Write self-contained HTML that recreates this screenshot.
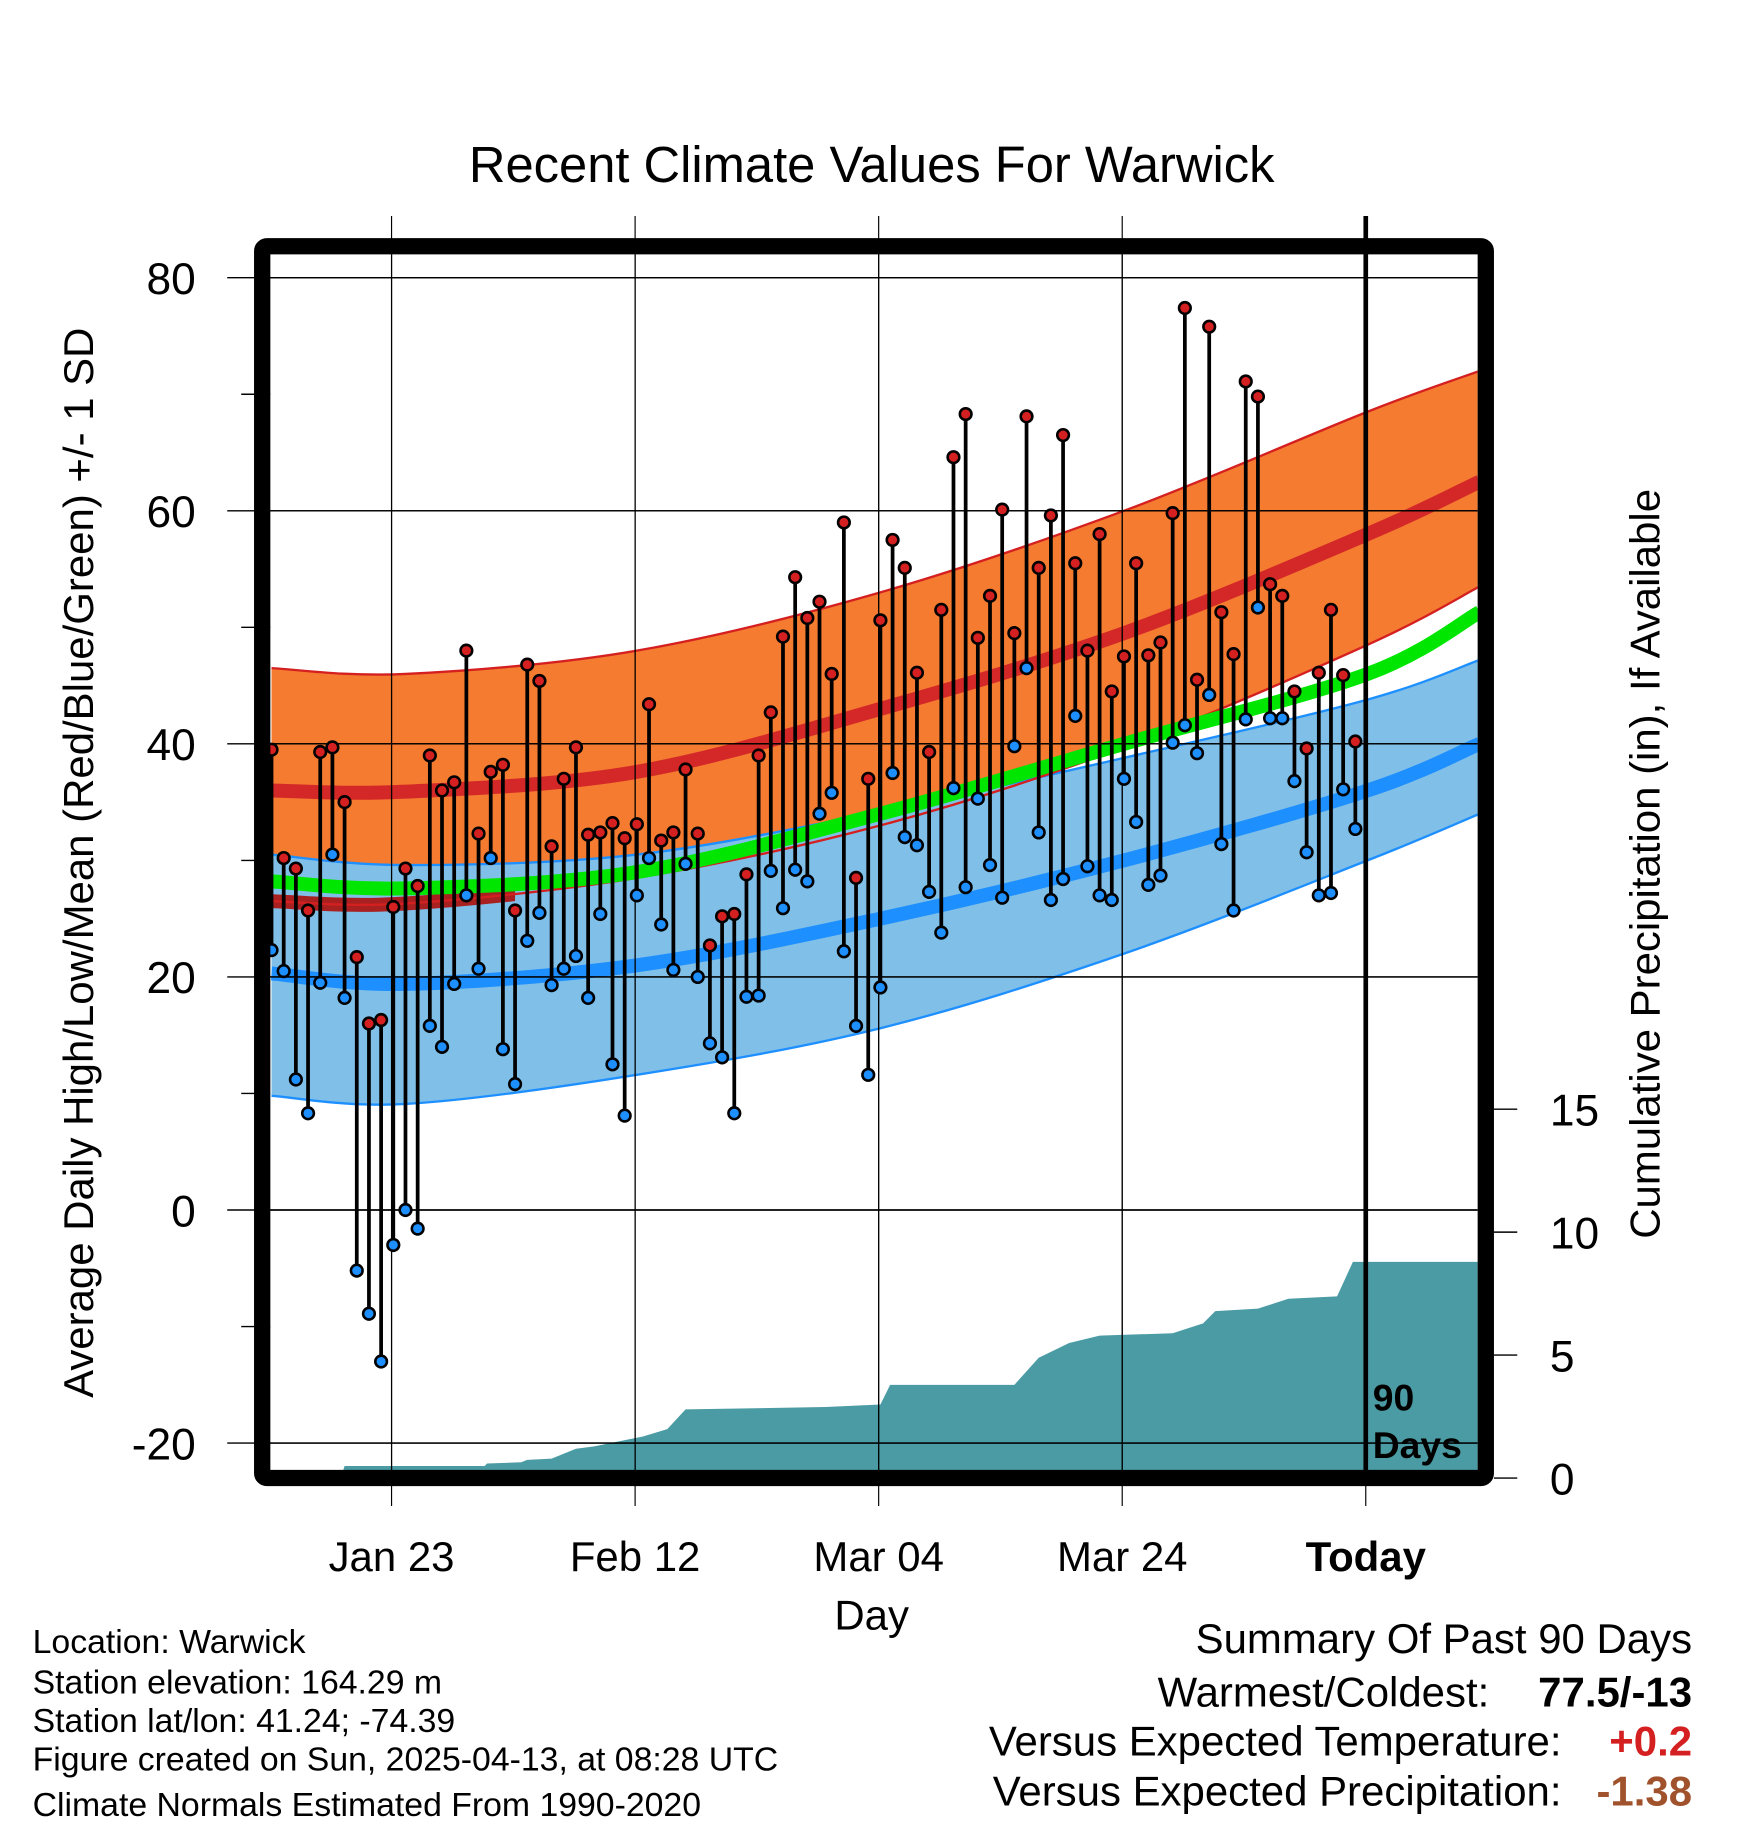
<!DOCTYPE html>
<html><head><meta charset="utf-8"><style>
html,body{margin:0;padding:0;background:#fff}
svg{display:block;font-family:"Liberation Sans",Arial,sans-serif}
</style></head><body>
<svg id="chart" width="1748" height="1828" viewBox="0 0 1500 1568">
<g id="bg"></g>
</svg>
<script>
const highs=[39.5,30.2,29.3,25.7,39.3,39.7,35,21.7,16,16.3,26,29.3,27.8,39,36,36.7,48,32.3,37.6,38.2,25.7,46.8,45.4,31.2,37,39.7,32.2,32.4,33.2,31.9,33.1,43.4,31.7,32.4,37.8,32.3,22.7,25.2,25.4,28.8,39,42.7,49.2,54.3,50.8,52.2,46,59,28.5,37,50.6,57.5,55.1,46.1,39.3,51.5,64.6,68.3,49.1,52.7,60.1,49.5,68.1,55.1,59.6,66.5,55.5,48,58,44.5,47.5,55.5,47.6,48.7,59.8,77.4,45.5,75.8,51.3,47.7,71.1,69.8,53.7,52.7,44.5,39.6,46.1,51.5,45.9,40.2];
const lows=[22.3,20.5,11.2,8.3,19.5,30.5,18.2,-5.2,-8.9,-13,-3,0,-1.6,15.8,14,19.4,27,20.7,30.2,13.8,10.8,23.1,25.5,19.3,20.7,21.8,18.2,25.4,12.5,8.1,27,30.2,24.5,20.6,29.7,20,14.3,13.1,8.3,18.3,18.4,29.1,25.9,29.2,28.2,34,35.8,22.2,15.8,11.6,19.1,37.5,32,31.3,27.3,23.8,36.2,27.7,35.3,29.6,26.8,39.8,46.5,32.4,26.6,28.4,42.4,29.5,27,26.6,37,33.3,27.9,28.7,40.1,41.6,39.2,44.2,31.4,25.7,42.1,51.7,42.2,42.2,36.8,30.7,27,27.2,36.1,32.7];
const normDays=[0,11,30,50,70,90,99.2];
const hiMean=[36,35.9,37.6,43,49.5,58,62.5];
const hiUpper=[46.5,46,48,53,60,68.5,72];
const hiLower=[26.5,26.3,28.5,33,39.7,48.5,53.5];
const meanT=[28.2,27.6,29,34,40,46,51.3];
const loUpper=[30.5,29.6,30.5,34.2,38.8,43.8,47.2];
const loMean=[20.3,19.4,21,25,30,36,40];
const loLower=[9.8,9.1,11.6,15.6,22,30,34];
const precipDays=[0,5.8,6,17.5,17.7,20.5,21,23,25,26.5,27.5,30.5,32.5,34,45.5,50,50.8,61,63,65.5,68,74,76.5,77.5,81,83.5,87.5,88.8,99.2];
const precipCum=[0,0,0.3,0.3,0.4,0.45,0.55,0.6,1.0,1.1,1.2,1.5,1.8,2.6,2.7,2.8,3.6,3.6,4.7,5.3,5.6,5.7,6.1,6.6,6.7,7.1,7.2,8.6,8.6];
const yTicks=[80,60,40,20,0,-20];
const pTicks=[0,5,10,15];
const xLabels=["Jan 23","Feb 12","Mar 04","Mar 24","Today"];
const xLabelDays=[10,30,50,70,90];

const NS="http://www.w3.org/2000/svg";
const svg=document.getElementById('chart');
const L=232,R=1268,T=218,B=1262;
const X=d=>233+10.45*d;
const Y=v=>238+(80-v)*10;
const P=p=>1264-p*21.1;
function mk(tag,attrs,parent){const e=document.createElementNS(NS,tag);for(const k in attrs)e.setAttribute(k,attrs[k]);(parent||svg).appendChild(e);return e;}
function txt(s,attrs){const e=mk('text',attrs);e.textContent=s;return e;}
const clip=mk('clipPath',{id:'pc'});mk('rect',{x:L,y:T,width:R-L,height:B-T},clip);
const plot=mk('g',{'clip-path':'url(#pc)'});
// smooth curve (Catmull-Rom) through anchor points
function smooth(arr,rev){let pts=normDays.map((d,i)=>[X(d),Y(arr[i])]);if(rev)pts=pts.reverse();
let s='';for(let i=0;i<pts.length-1;i++){const p0=pts[Math.max(0,i-1)],p1=pts[i],p2=pts[i+1],p3=pts[Math.min(pts.length-1,i+2)];
const c1=[p1[0]+(p2[0]-p0[0])/6,p1[1]+(p2[1]-p0[1])/6],c2=[p2[0]-(p3[0]-p1[0])/6,p2[1]-(p3[1]-p1[1])/6];
if(i==0)s+=(rev?'L':'M')+p1[0]+','+p1[1];s+=' C'+c1[0]+','+c1[1]+' '+c2[0]+','+c2[1]+' '+p2[0]+','+p2[1];}return s;}
function band(up,lo,fill,name){const e=mk('path',{d:smooth(up,false)+' '+smooth(lo,true)+'Z',fill:fill},plot);

return e;}
function curve(arr,stroke,w,name){const e=mk('path',{d:smooth(arr,false),fill:'none',stroke:stroke,'stroke-width':w},plot);

return e;}
// gridlines
yTicks.forEach(v=>{const g=mk('line',{x1:195,x2:R,y1:Y(v),y2:Y(v),stroke:'#000','stroke-width':1.2});


const t=txt(String(v),{x:168,y:Y(v)+14,'font-size':38,'text-anchor':'end'});

});
[70,50,30,10,-10].forEach(v=>mk('line',{x1:207,x2:L,y1:Y(v),y2:Y(v),stroke:'#000','stroke-width':1.2}));
xLabelDays.forEach((d,i)=>{const g=mk('line',{x1:X(d)-1.5,x2:X(d)-1.5,y1:185,y2:1292,stroke:'#000','stroke-width':1});


const t=txt(xLabels[i],{x:X(d)-1.5,y:1348,'font-size':36,'text-anchor':'middle','font-weight':i==4?'bold':'normal'});

});
// bands
band(hiUpper,hiLower,'#f47b30','high-sd-band');
curve(hiUpper,'#d42020',2,'high-upper-edge');
band(loUpper,loLower,'#80c0e8','low-sd-band');
curve(loUpper,'#1e8fff',2,'low-upper-edge');
curve(loLower,'#1e8fff',2,'low-lower-edge');
curve(hiMean,'#d42828',12,'high-mean-line');
const dkc=mk('clipPath',{id:'dkc'});mk('rect',{x:L,y:T,width:X(20)-L,height:B-T},dkc);
const dk=mk('path',{d:smooth(hiLower,false),fill:'none',stroke:'#a82020','stroke-width':12,'clip-path':'url(#dkc)'},plot);
curve(hiLower,'#d42020',2,'high-lower-edge');
curve(meanT,'#00e600',12,'mean-temp-line');
curve(loMean,'#1e8fff',12,'low-mean-line');
// precip area
let pp=[X(precipDays[0])+','+B];
precipDays.forEach((d,i)=>{pp.push(X(d)+','+P(precipCum[i]));});
pp.push(X(precipDays[precipDays.length-1])+','+B);
const pa=mk('polygon',{points:pp.join(' '),fill:'#4a9ba4'},plot);


yTicks.forEach(v=>mk('line',{x1:L,x2:R,y1:Y(v),y2:Y(v),stroke:'#000','stroke-width':1.2,opacity:0.9},plot));
xLabelDays.slice(0,4).forEach(d=>mk('line',{x1:X(d)-1.5,x2:X(d)-1.5,y1:T,y2:B,stroke:'#000','stroke-width':1},plot));
// data
highs.forEach((h,i)=>{const x=X(i);
const s=mk('line',{x1:x,x2:x,y1:Y(h),y2:Y(lows[i]),stroke:'#000','stroke-width':3.2});

});
highs.forEach((h,i)=>{const x=X(i);
const c=mk('circle',{cx:x,cy:Y(h),r:5,fill:'#d42020',stroke:'#000','stroke-width':2.2});


const c2=mk('circle',{cx:x,cy:Y(lows[i]),r:5,fill:'#1e8fff',stroke:'#000','stroke-width':2.2});

});
// today line
const td=mk('line',{x1:X(90)-1.5,x2:X(90)-1.5,y1:185,y2:B,stroke:'#000','stroke-width':4});


txt('90',{x:1178,y:1210,'font-size':32,'font-weight':'bold'});
txt('Days',{x:1178,y:1251,'font-size':32,'font-weight':'bold'});
// frame
const fr=mk('rect',{x:225,y:211,width:1050,height:1057,fill:'none',stroke:'#000','stroke-width':14,rx:4});


// right axis
pTicks.forEach(p=>{mk('line',{x1:1282,x2:1302,y1:1268-p*21.1,y2:1268-p*21.1,stroke:'#000','stroke-width':1.2});
const t=txt(String(p),{x:1330,y:1268-p*21.1+14,'font-size':38});

});
const tt=txt('Recent Climate Values For Warwick',{x:748,y:156,'font-size':43.5,'text-anchor':'middle'});


const yt=txt('Average Daily High/Low/Mean (Red/Blue/Green) +/- 1 SD',{x:0,y:0,'font-size':36,'text-anchor':'middle',transform:'translate(80,740) rotate(-90)'});


const rt=txt('Cumulative Precipitation (in), If Available',{x:0,y:0,'font-size':36,'text-anchor':'middle',transform:'translate(1424,741) rotate(-90)'});


const xt=txt('Day',{x:748,y:1398,'font-size':36,'text-anchor':'middle'});


['Location: Warwick','Station elevation: 164.29 m','Station lat/lon: 41.24; -74.39','Figure created on Sun, 2025-04-13, at 08:28 UTC','Climate Normals Estimated From 1990-2020'].forEach((s,i)=>{const t=txt(s,{x:28,y:[1418,1453,1486,1519,1558][i],'font-size':29});

});
const sm=[['Summary Of Past 90 Days',1452,1418,null,null],['Warmest/Coldest:',1278,1464,'77.5/-13','#000'],['Versus Expected Temperature:',1340,1506,'+0.2','#d42020'],['Versus Expected Precipitation:',1340,1549,'-1.38','#a0522d']];
sm.forEach(r=>{const t=txt(r[0],{x:r[1],y:r[2],'font-size':36,'text-anchor':'end'});


if(r[3]){const v=txt(r[3],{x:1452,y:r[2],'font-size':36,'text-anchor':'end','font-weight':'bold',fill:r[4]});

}});
</script>
</body></html>
